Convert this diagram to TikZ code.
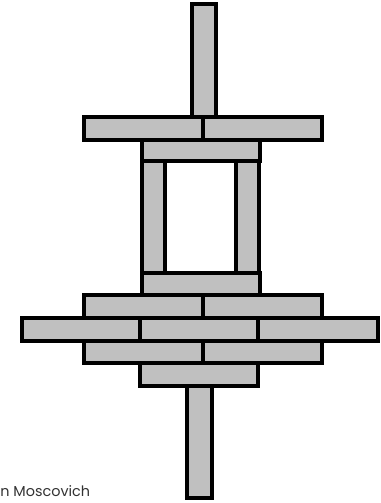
\documentclass[tikz,border=0pt]{standalone}
\usepackage{fontspec}
\newfontfamily\creditfont{Poppins}
\usepackage{tikz}
\usetikzlibrary{positioning}

\definecolor{brickgray}{HTML}{C0C0C0}
\definecolor{creditgray}{HTML}{333333}

\tikzset{
    brick/.style={fill=brickgray, draw=black, line width=2.2pt},
    credit/.style={font=\creditfont\fontsize{8.2}{9}\selectfont, text=creditgray, inner sep=0pt, anchor=base west}
}

\begin{document}
\begin{tikzpicture}[x=0.02cm, y=-0.02cm]

    \useasboundingbox (0,0) rectangle (381,503);

    % --- Top Stick ---
    \filldraw[brick] (192,4) rectangle (216,117);

    % --- Top Bar (two bricks) ---
    \filldraw[brick] (84,117) rectangle (203,140);
    \filldraw[brick] (203,117) rectangle (322,140);

    % --- Frame ---
    % top and bottom pieces
    \filldraw[brick] (142,140) rectangle (260,161);
    \filldraw[brick] (142,273) rectangle (260,295);
    % side posts
    \filldraw[brick] (142,161) rectangle (165,273);
    \filldraw[brick] (236,161) rectangle (259,273);

    % --- Lower Stack ---
    % row 1
    \filldraw[brick] (84,295) rectangle (203,318);
    \filldraw[brick] (203,295) rectangle (322,318);
    % row 2 (widest)
    \filldraw[brick] (22,318) rectangle (140,341);
    \filldraw[brick] (140,318) rectangle (258,341);
    \filldraw[brick] (258,318) rectangle (378,341);
    % row 3
    \filldraw[brick] (84,341) rectangle (203,363);
    \filldraw[brick] (203,341) rectangle (322,363);
    % row 4
    \filldraw[brick] (140,363) rectangle (258,386);

    % --- Bottom Stick ---
    \filldraw[brick] (187,386) rectangle (212,498);

    % --- Credit ---
    \node[credit] (credit) at (0,496) {n Moscovich};

\end{tikzpicture}
\end{document}
